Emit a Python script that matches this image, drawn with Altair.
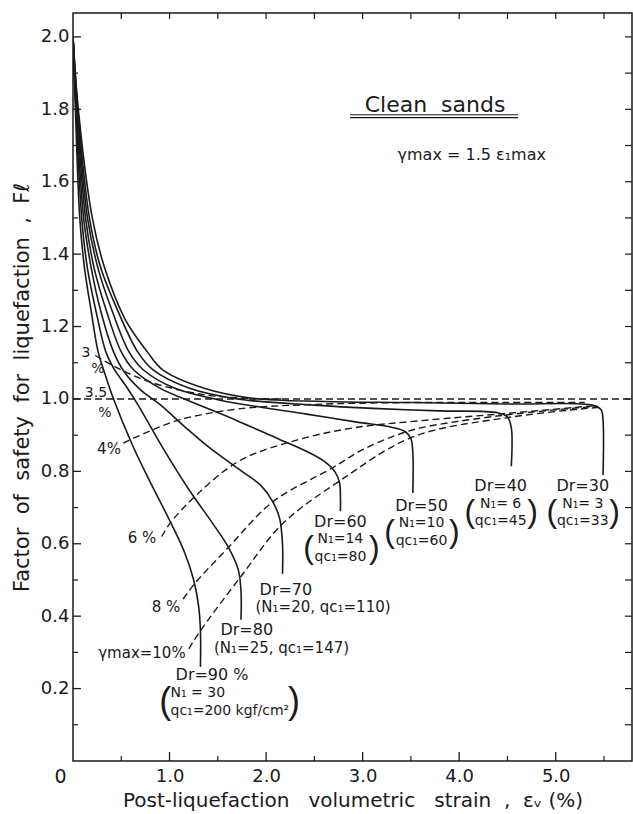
import altair as alt
import pandas as pd

FONT = "DejaVu Sans"
PFONT = "Liberation Sans"
INK = "#1a1a1a"
NB = "\u00a0"

# ---- solid curves: F_l vs post-liquefaction volumetric strain, one per relative density
dr_names = ["Dr90", "Dr80", "Dr70", "Dr60", "Dr50", "Dr40", "Dr30"]
dr90_x = [0.0, 0.025, 0.07, 0.12, 0.19, 0.26, 0.33, 0.42, 0.62, 0.80, 1.00, 1.15, 1.25, 1.30, 1.32, 1.32]
dr90_y = [2.00, 1.80, 1.50, 1.36, 1.24, 1.13, 1.07, 1.00, 0.87, 0.77, 0.665, 0.58, 0.50, 0.43, 0.36, 0.26]
dr80_x = [0.0, 0.03, 0.09, 0.15, 0.24, 0.34, 0.42, 0.55, 0.67, 0.93, 1.20, 1.45, 1.61, 1.71, 1.74, 1.74]
dr80_y = [2.00, 1.80, 1.50, 1.36, 1.24, 1.13, 1.085, 1.035, 0.985, 0.865, 0.75, 0.655, 0.59, 0.53, 0.47, 0.39]
dr70_x = [0.0, 0.035, 0.11, 0.19, 0.29, 0.42, 0.53, 0.70, 0.90, 1.15, 1.42, 1.75, 1.95, 2.07, 2.14, 2.17, 2.17]
dr70_y = [2.00, 1.80, 1.50, 1.36, 1.24, 1.13, 1.075, 1.025, 0.985, 0.925, 0.864, 0.80, 0.76, 0.716, 0.67, 0.60, 0.517]
dr60_x = [0.0, 0.04, 0.13, 0.22, 0.35, 0.50, 0.63, 0.90, 1.20, 1.70, 2.10, 2.42, 2.60, 2.71, 2.76, 2.77, 2.77]
dr60_y = [2.00, 1.80, 1.50, 1.36, 1.24, 1.13, 1.08, 1.03, 0.995, 0.94, 0.893, 0.855, 0.828, 0.80, 0.77, 0.73, 0.69]
dr50_x = [0.0, 0.045, 0.15, 0.26, 0.41, 0.58, 0.73, 1.05, 1.50, 2.00, 2.42, 2.94, 3.30, 3.44, 3.50, 3.52, 3.52]
dr50_y = [2.00, 1.80, 1.50, 1.36, 1.24, 1.13, 1.08, 1.03, 0.998, 0.975, 0.958, 0.936, 0.922, 0.91, 0.89, 0.85, 0.74]
dr40_x = [0.0, 0.05, 0.17, 0.29, 0.47, 0.67, 0.83, 1.20, 1.70, 2.50, 3.11, 3.80, 4.40, 4.50, 4.54, 4.54]
dr40_y = [2.00, 1.80, 1.50, 1.36, 1.24, 1.13, 1.08, 1.03, 1.00, 0.983, 0.974, 0.967, 0.962, 0.95, 0.92, 0.814]
dr30_x = [0.0, 0.055, 0.20, 0.33, 0.54, 0.77, 0.93, 1.35, 1.85, 2.60, 3.50, 4.50, 5.38, 5.47, 5.49, 5.49]
dr30_y = [2.00, 1.80, 1.50, 1.36, 1.22, 1.13, 1.08, 1.03, 1.002, 0.993, 0.99, 0.986, 0.983, 0.97, 0.94, 0.79]

# ---- dashed curves: gamma_max contours
g_names = ["3%", "3.5%", "4%", "6%", "8%", "10%"]
g3_x = [0.23, 0.50, 0.83, 1.35, 1.80, 2.20]
g3_y = [1.12, 1.08, 1.044, 1.012, 1.002, 1.0]
g35_x = [0.0, 5.79]
g35_y = [1.0, 1.0]
g4_x = [0.52, 0.80, 1.11, 1.70, 2.50, 3.50, 4.50, 5.30]
g4_y = [0.878, 0.912, 0.943, 0.972, 0.985, 0.99, 0.99, 0.99]
g6_x = [0.92, 1.00, 1.30, 1.73, 2.30, 2.90, 3.60, 4.49, 5.43]
g6_y = [0.62, 0.655, 0.74, 0.83, 0.885, 0.92, 0.94, 0.96, 0.982]
g8_x = [1.14, 1.26, 1.61, 2.07, 2.69, 3.00, 3.35, 3.60, 4.46, 5.43]
g8_y = [0.447, 0.49, 0.59, 0.716, 0.81, 0.86, 0.90, 0.92, 0.955, 0.98]
g10_x = [1.20, 1.32, 1.74, 2.17, 2.77, 3.52, 4.54, 5.49]
g10_y = [0.31, 0.36, 0.51, 0.655, 0.775, 0.895, 0.95, 0.978]

# ---- axis ticks
x_major = [1.0, 2.0, 3.0, 4.0, 5.0]
x_minor = [0.5, 1.5, 2.5, 3.5, 4.5, 5.5]
x_top = [0.5, 1.0, 1.5, 2.0, 2.5, 3.0, 3.5, 4.0, 4.5, 5.0, 5.5]
y_major = [0.2, 0.4, 0.6, 0.8, 1.0, 1.2, 1.4, 1.6, 1.8, 2.0]
y_minor = [0.1, 0.3, 0.5, 0.7, 0.9, 1.1, 1.3, 1.5, 1.7, 1.9]
y_right = [0.1, 0.2, 0.3, 0.4, 0.5, 0.6, 0.7, 0.8, 0.9, 1.0, 1.1, 1.2, 1.3, 1.4, 1.5, 1.6, 1.7, 1.8, 1.9, 2.0]

# ---- annotations (centered)
lab_text = ["Clean" + NB + NB + "sands", "γmax = 1.5 ε₁max",
            "Dr=30", "N₁= 3", "qc₁=33",
            "Dr=40", "N₁= 6", "qc₁=45",
            "Dr=50", "N₁=10", "qc₁=60",
            "Dr=60", "N₁=14", "qc₁=80",
            "Dr=70", "(N₁=20, qc₁=110)",
            "Dr=80", "(N₁=25, qc₁=147)",
            "Dr=90 %",
            "γmax=10%", "8 %", "6 %", "4%", "3.5", "%", "3", "%", "0"]
lab_x = [3.75, 4.13,
         5.28, 5.28, 5.28,
         4.43, 4.43, 4.43,
         3.61, 3.61, 3.61,
         2.77, 2.77, 2.77,
         2.205, 2.59,
         1.80, 2.16,
         1.44,
         0.714, 0.963, 0.714, 0.373, 0.238, 0.331, 0.135, 0.259, -0.13]
lab_y = [1.812, 1.674,
         0.760, 0.711, 0.662,
         0.760, 0.711, 0.662,
         0.705, 0.657, 0.608,
         0.660, 0.612, 0.563,
         0.472, 0.425,
         0.362, 0.312,
         0.238,
         0.298, 0.425, 0.616, 0.862, 1.016, 0.962, 1.126, 1.084, -0.045]
lab_size = [22, 16,
            16, 14, 14, 16, 14, 14, 16, 14, 14, 16, 14, 14,
            16, 15, 16, 15, 16,
            15, 15, 15, 15, 14, 14, 14, 14, 19]

# large bracket pairs enclosing the two-line N1 / qc1 groups
par_text = ["(", ")", "(", ")", "(", ")", "(", ")", "(", ")"]
par_x = [4.96, 5.61, 4.11, 4.76, 3.28, 3.95, 2.44, 3.12, 0.955, 2.29]
par_y = [0.687, 0.687, 0.687, 0.687, 0.633, 0.633, 0.588, 0.588, 0.163, 0.163]
par_size = [32, 32, 32, 32, 32, 32, 32, 32, 36, 36]

# left-aligned annotations
left_text = ["N₁ = 30", "qc₁=200 kgf/cm²"]
left_x = [1.01, 1.01]
left_y = [0.187, 0.139]

# double underline under "Clean sands"
ul_x = [2.87, 2.87]
ul_x2 = [4.61, 4.61]
ul_y = [1.785, 1.777]

# ---------------- build tables
def long(names, xs_list, ys_list):
    rows = []
    for n, xs, ys in zip(names, xs_list, ys_list):
        for i, (a, b) in enumerate(zip(xs, ys)):
            rows.append({"curve": n, "order": i, "x": a, "y": b})
    return pd.DataFrame(rows)

solid_df = long(dr_names, [dr90_x, dr80_x, dr70_x, dr60_x, dr50_x, dr40_x, dr30_x],
                [dr90_y, dr80_y, dr70_y, dr60_y, dr50_y, dr40_y, dr30_y])
dash_df = long(g_names, [g3_x, g35_x, g4_x, g6_x, g8_x, g10_x],
               [g3_y, g35_y, g4_y, g6_y, g8_y, g10_y])
lab_df = pd.DataFrame({"x": lab_x, "y": lab_y, "text": lab_text, "size": lab_size})
par_df = pd.DataFrame({"x": par_x, "y": par_y, "text": par_text, "size": par_size})
left_df = pd.DataFrame({"x": left_x, "y": left_y, "text": left_text})
ul_df = pd.DataFrame({"x": ul_x, "x2": ul_x2, "y": ul_y})

x_title = NB.join(["Post-liquefaction", "", "", "volumetric", "", "", "strain", "", ",", "", "εᵥ", "(%)"])
y_title = NB.join(["Factor", "", "of", "", "safety", "", "for", "", "liquefaction", "", ",", "", "Fℓ"])

W, H = 559, 748
XS = alt.Scale(domain=[0, 5.79], nice=False, zero=False)
YS = alt.Scale(domain=[0, 2.066], nice=False, zero=False)
xaxis = alt.Axis(values=x_major, format=".1f", title=x_title,
                 labelPadding=6, titlePadding=5, labelOverlap=False)
yaxis = alt.Axis(values=y_major, format=".1f", title=y_title,
                 labelPadding=4, titlePadding=8, labelOverlap=False, titleFontSize=21)
X = alt.X("x:Q", scale=XS, axis=xaxis)
Y = alt.Y("y:Q", scale=YS, axis=yaxis)

solid = alt.Chart(solid_df).mark_line(interpolate="catmull-rom", color=INK, strokeWidth=1.6, clip=True).encode(
    x=X, y=Y, detail="curve:N", order="order:Q")
dashed = alt.Chart(dash_df).mark_line(interpolate="catmull-rom", color=INK, strokeWidth=1.4,
                                      strokeDash=[7, 4], clip=True).encode(
    x=X, y=Y, detail="curve:N", order="order:Q")

labels = alt.Chart(lab_df).mark_text(font=FONT, color=INK, align="center", baseline="middle").encode(
    x=X, y=Y, text="text:N", size=alt.Size("size:Q", scale=None))
parens = alt.Chart(par_df).mark_text(font=PFONT, color=INK, align="center", baseline="middle").encode(
    x=X, y=Y, text="text:N", size=alt.Size("size:Q", scale=None))
labels_left = alt.Chart(left_df).mark_text(font=FONT, color=INK, align="left", baseline="middle", fontSize=14).encode(
    x=X, y=Y, text="text:N")
underline = alt.Chart(ul_df).mark_rule(color=INK, strokeWidth=1.2).encode(x=X, x2="x2:Q", y=Y)

ticks_lx = alt.Chart(pd.DataFrame({"y": y_major})).mark_rule(color=INK, strokeWidth=1.3).encode(
    y=Y, x=alt.value(0), x2=alt.value(8))
ticks_lm = alt.Chart(pd.DataFrame({"y": y_minor})).mark_rule(color=INK, strokeWidth=1.2).encode(
    y=Y, x=alt.value(0), x2=alt.value(5))
ticks_r = alt.Chart(pd.DataFrame({"y": y_right})).mark_rule(color=INK, strokeWidth=1.2).encode(
    y=Y, x=alt.value(W), x2=alt.value(W - 7))
ticks_b = alt.Chart(pd.DataFrame({"x": x_major})).mark_rule(color=INK, strokeWidth=1.3).encode(
    x=X, y=alt.value(H), y2=alt.value(H - 9))
ticks_bm = alt.Chart(pd.DataFrame({"x": x_minor})).mark_rule(color=INK, strokeWidth=1.2).encode(
    x=X, y=alt.value(H), y2=alt.value(H - 5))
ticks_t = alt.Chart(pd.DataFrame({"x": x_top})).mark_rule(color=INK, strokeWidth=1.2).encode(
    x=X, y=alt.value(0), y2=alt.value(6))

chart = alt.layer(
    ticks_lx, ticks_lm, ticks_r, ticks_b, ticks_bm, ticks_t,
    dashed, solid, underline, labels, parens, labels_left
).properties(
    width=W, height=H,
    autosize=alt.AutoSizeParams(type="none"),
    padding={"left": 73, "top": 13, "right": 1, "bottom": 53},
    background="white",
).configure_view(
    stroke=INK, strokeWidth=1.5
).configure_axis(
    grid=False, ticks=False, domain=False,
    labelFont=FONT, titleFont=FONT, labelFontSize=18, titleFontSize=20,
    labelColor=INK, titleColor=INK, titleFontWeight="normal"
)

chart.save("out.html", embed_options={"renderer": "svg", "actions": False})
